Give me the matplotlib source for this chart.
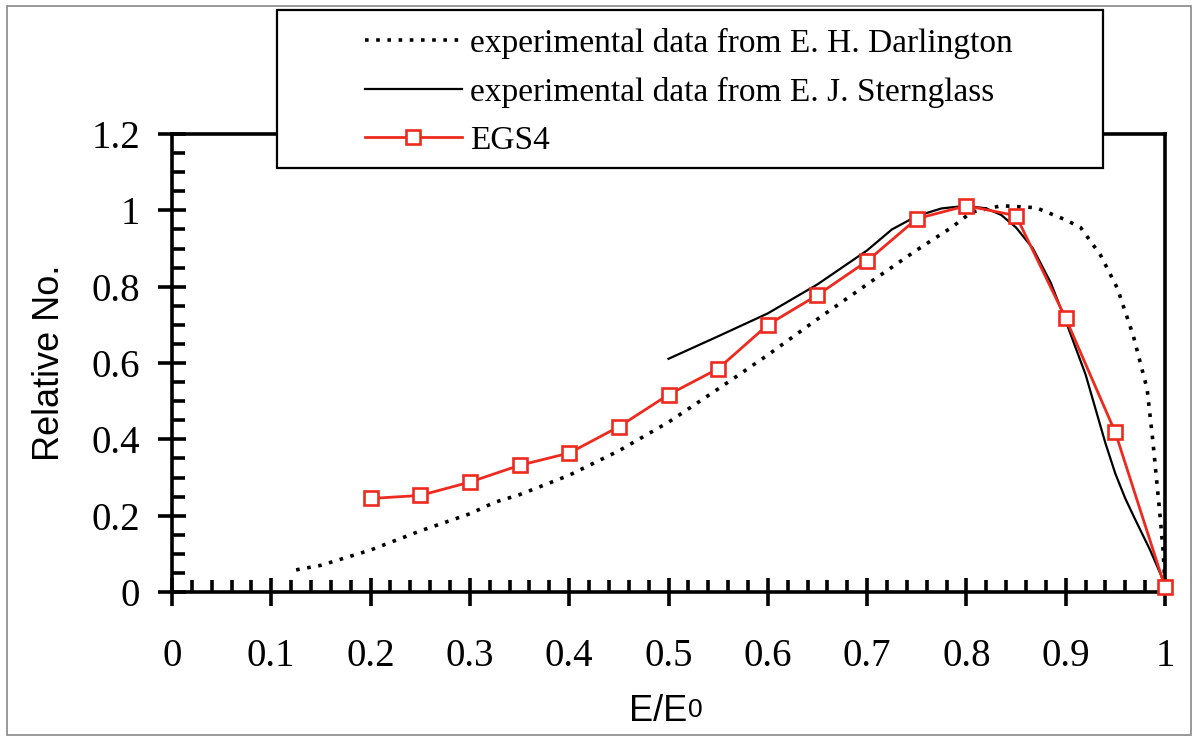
import matplotlib

matplotlib.use("Agg")
import matplotlib.pyplot as plt
from matplotlib.patches import Rectangle
from matplotlib.ticker import MultipleLocator, FuncFormatter

# EGS4 simulation (every 0.05 in E/E0)
egs4_x = [0.20, 0.25, 0.30, 0.35, 0.40, 0.45, 0.50, 0.55, 0.60,
          0.65, 0.70, 0.75, 0.80, 0.85, 0.90, 0.95, 1.00]
egs4_y = [0.245, 0.253, 0.288, 0.332, 0.364, 0.433, 0.517, 0.585, 0.700,
          0.778, 0.867, 0.978, 1.012, 0.986, 0.717, 0.418, 0.013]

# Sternglass measurement
stern_x = [0.50, 0.55, 0.60, 0.65, 0.70, 0.725, 0.75, 0.775, 0.80, 0.82,
           0.835, 0.85, 0.867, 0.885, 0.90, 0.92, 0.94, 0.95, 0.96, 0.97,
           0.985, 1.00]
stern_y = [0.611, 0.670, 0.730, 0.806, 0.895, 0.950, 0.985, 1.005, 1.012, 1.005,
           0.988, 0.955, 0.900, 0.810, 0.710, 0.570, 0.390, 0.310, 0.245, 0.190,
           0.110, 0.020]

# Darlington measurement
darl_x = [0.125, 0.15, 0.175, 0.20, 0.25, 0.30, 0.325, 0.35, 0.40, 0.45,
          0.50, 0.55, 0.60, 0.65, 0.70, 0.75, 0.785, 0.805, 0.835, 0.87,
          0.90, 0.915, 0.935, 0.952, 0.968, 0.982, 0.988, 0.995, 0.998, 1.00]
darl_y = [0.058, 0.070, 0.090, 0.110, 0.160, 0.205, 0.235, 0.255, 0.306, 0.370,
          0.445, 0.532, 0.621, 0.715, 0.806, 0.896, 0.955, 0.995, 1.012, 1.007,
          0.975, 0.955, 0.883, 0.796, 0.672, 0.532, 0.390, 0.200, 0.110, 0.020]

labels = ["experimental data from E. H. Darlington",
          "experimental data from E. J. Sternglass",
          "EGS4"]

RED = "#ee2a1e"
W, H = 1193, 736

fig = plt.figure(figsize=(W / 100, H / 100), dpi=100)
ax = fig.add_axes([172 / W, 1 - 592 / H, (1165 - 172) / W, (592 - 134) / H])

l_darl, = ax.plot(darl_x, darl_y, color="black", lw=2.6, ls=(0, (1, 2.1)))
l_stern, = ax.plot(stern_x, stern_y, color="black", lw=1.6)
l_egs, = ax.plot(egs4_x, egs4_y, color=RED, lw=2.0, marker="s", ms=10,
                 mfc="white", mec=RED, mew=1.9, clip_on=False, zorder=4)

ax.set_xlim(0, 1)
ax.set_ylim(0, 1.2)
ax.xaxis.set_major_locator(MultipleLocator(0.1))
ax.xaxis.set_minor_locator(MultipleLocator(0.02))
ax.yaxis.set_major_locator(MultipleLocator(0.2))
ax.yaxis.set_minor_locator(MultipleLocator(0.05))
fmt = FuncFormatter(lambda v, p: "%g" % round(v, 2))
ax.xaxis.set_major_formatter(fmt)
ax.yaxis.set_major_formatter(fmt)

for s in ax.spines.values():
    s.set_linewidth(2.6)
ax.tick_params(which="major", direction="inout", length=20, width=2.6,
               labelsize=28, labelfontfamily="Liberation Serif")
ax.tick_params(which="minor", direction="in", length=9, width=2.6)
ax.tick_params(axis="x", which="major", pad=23)
ax.tick_params(axis="y", which="major", pad=13)

ax.set_ylabel("Relative No.", fontsize=26, fontfamily="Liberation Sans")
ax.yaxis.set_label_coords(-0.106, 0.5)
ax.set_xlabel("E/E", fontsize=26, fontfamily="Liberation Sans")
ax.xaxis.set_label_coords(0.49, -0.222)
ax.annotate("0", xy=(1, 0), xycoords=ax.xaxis.label, xytext=(0, 5),
            textcoords="offset points", ha="left", va="bottom",
            fontsize=19, fontfamily="Liberation Sans")

# legend box sits over the top spine
fig.patches.append(Rectangle((277 / W, 1 - 168 / H), (1103 - 277) / W, (168 - 10) / H,
                             transform=fig.transFigure, facecolor="white",
                             edgecolor="black", lw=1.6, zorder=5))
leg = fig.legend([l_darl, l_stern, l_egs], labels, loc="upper left",
                 bbox_to_anchor=(365 / W, 1 - 28 / H), frameon=False,
                 prop={"family": "Liberation Serif", "size": 24},
                 handlelength=2.9, handletextpad=0.25, labelspacing=0.53,
                 borderpad=0, borderaxespad=0)
leg.set_zorder(6)

# thin outer border
fig.patches.append(Rectangle((7 / W, 1 - 735 / H), (1191 - 7) / W, (735 - 6) / H,
                             transform=fig.transFigure, facecolor="none",
                             edgecolor="#888888", lw=1.2, zorder=1))

fig.savefig("out.png", dpi=100)
